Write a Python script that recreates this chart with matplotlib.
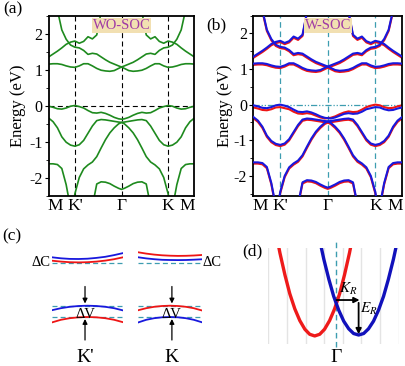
import matplotlib
matplotlib.use('Agg')
import numpy as np
import matplotlib.pyplot as plt
from matplotlib.transforms import ScaledTranslation
from matplotlib.ticker import MultipleLocator

plt.rcParams['font.family'] = ['Liberation Serif', 'DejaVu Serif']
plt.rcParams['mathtext.fontset'] = 'stix'
plt.rcParams['axes.unicode_minus'] = False

# ---------------- data: band structure (a) ----------------
k_path = [0.00, 0.03, 0.06, 0.09, 0.12, 0.15, 0.18, 0.21, 0.24, 0.27, 0.30, 0.33,
          0.36, 0.39, 0.42, 0.45, 0.48, 0.50, 0.52, 0.55, 0.58, 0.61, 0.64, 0.67,
          0.70, 0.73, 0.76, 0.79, 0.82, 0.85, 0.88, 0.91, 0.94, 0.97, 1.00]
k_points = [0.0, 0.18, 0.5, 0.82, 1.0]
k_labels = ['M', "K'", 'Γ', 'K', 'M']

band_c1 = [1.15, 1.16, 1.16, 1.14, 1.10, 1.07, 1.06, 1.10, 1.16, 1.16, 1.10, 1.03,
           0.98, 0.96, 0.95, 0.97, 1.03, 1.07, 1.03, 0.97, 0.95, 0.96, 0.98, 1.03,
           1.10, 1.16, 1.16, 1.10, 1.06, 1.07, 1.10, 1.14, 1.16, 1.16, 1.15]
band_c2 = [4.00, 3.30, 2.65, 2.10, 1.84, 1.68, 1.62, 1.60, 1.53, 1.42, 1.45, 1.43,
           1.35, 1.27, 1.20, 1.15, 1.10, 1.07, 1.10, 1.15, 1.20, 1.27, 1.35, 1.43,
           1.45, 1.42, 1.53, 1.60, 1.62, 1.68, 1.84, 2.10, 2.65, 3.30, 4.00]
band_c3 = [1.35, 1.43, 1.51, 1.60, 1.70, 1.76, 1.79, 1.73, 1.78, 1.91, 1.85, 1.96,
           2.60, 2.90, 3.00, 3.00, 3.00, 3.00, 3.00, 3.00, 3.00, 2.90, 2.60, 1.96,
           1.85, 1.91, 1.78, 1.73, 1.79, 1.76, 1.70, 1.60, 1.51, 1.43, 1.35]
band_v1 = [-0.02, -0.05, -0.09, -0.10, -0.07, -0.02, 0.00, -0.03, -0.07, -0.14, -0.20, -0.21,
           -0.19, -0.22, -0.27, -0.33, -0.37, -0.38, -0.37, -0.33, -0.27, -0.22, -0.19, -0.21,
           -0.20, -0.14, -0.07, -0.03, 0.00, -0.02, -0.07, -0.10, -0.09, -0.05, -0.02]
band_v2 = [-0.35, -0.45, -0.62, -0.87, -1.02, -1.10, -1.13, -1.09, -0.97, -0.77, -0.57, -0.42,
           -0.39, -0.40, -0.42, -0.44, -0.46, -0.47, -0.46, -0.44, -0.42, -0.40, -0.39, -0.42,
           -0.57, -0.77, -0.97, -1.09, -1.13, -1.10, -1.02, -0.87, -0.62, -0.45, -0.35]
band_v3 = [-4.00, -4.00, -4.00, -4.00, -4.00, -3.20, -2.45, -2.00, -1.76, -1.65, -1.57, -1.42,
           -1.18, -0.95, -0.76, -0.62, -0.51, -0.47, -0.51, -0.62, -0.76, -0.95, -1.18, -1.42,
           -1.57, -1.65, -1.76, -2.00, -2.45, -3.20, -4.00, -4.00, -4.00, -4.00, -4.00]
band_v4 = [-1.62, -1.62, -1.64, -1.75, -2.20, -2.85, -3.40, -4.00, -4.00, -4.00, -4.00, -4.00,
           -4.00, -4.00, -4.00, -4.00, -4.00, -4.00, -4.00, -4.00, -4.00, -4.00, -4.00, -4.00,
           -4.00, -4.00, -4.00, -4.00, -3.40, -2.85, -2.20, -1.75, -1.64, -1.62, -1.62]
band_v5 = [-4.00, -4.00, -4.00, -4.00, -4.00, -4.00, -4.00, -4.00, -4.00, -4.00, -2.80, -2.18,
           -2.12, -2.13, -2.17, -2.24, -2.30, -2.33, -2.30, -2.24, -2.17, -2.13, -2.12, -2.18,
           -2.80, -4.00, -4.00, -4.00, -4.00, -4.00, -4.00, -4.00, -4.00, -4.00, -4.00]
bands_wo = [band_v5, band_v4, band_v3, band_v2, band_v1, band_c1, band_c2, band_c3]

# ---------------- data: spin splitting for (b) ----------------
soc_red_v1 = [-0.06, -0.06, -0.06, -0.06, -0.06, -0.06, -0.07, -0.07, -0.06, -0.06, -0.05, -0.05,
              -0.05, -0.04, -0.04, -0.03, -0.02, 0.00, 0.00, 0.00, 0.00, 0.00, 0.00, 0.00,
              0.00, 0.00, 0.00, 0.00, 0.00, 0.00, 0.00, 0.00, 0.00, 0.00, 0.00]
soc_blue_v1 = [0.00, 0.00, 0.00, 0.00, 0.00, 0.00, 0.00, 0.00, 0.00, 0.00, 0.00, 0.00,
               0.00, 0.00, 0.00, 0.00, 0.00, 0.00, -0.02, -0.03, -0.04, -0.04, -0.05, -0.05,
               -0.05, -0.06, -0.06, -0.07, -0.07, -0.06, -0.06, -0.06, -0.06, -0.06, -0.06]
soc_red_shift = -0.035   # other bands: red branch lies slightly below blue

# ---------------- data: schematic (c) ----------------
k_sch = [-1.0, -0.75, -0.5, -0.25, 0.0, 0.25, 0.5, 0.75, 1.0]
kp_cb_blue = [8.77, 8.67, 8.61, 8.60, 8.63, 8.71, 8.82, 8.99, 9.19]
kp_cb_red = [8.43, 8.34, 8.28, 8.26, 8.28, 8.34, 8.44, 8.58, 8.77]
k_cb_red = [9.27, 9.14, 9.04, 8.97, 8.93, 8.91, 8.92, 8.95, 9.00]
k_cb_blue = [8.77, 8.66, 8.58, 8.52, 8.50, 8.49, 8.50, 8.53, 8.57]
kp_vb_blue = [3.48, 3.68, 3.82, 3.90, 3.93, 3.90, 3.82, 3.68, 3.46]
kp_vb_red = [2.26, 2.52, 2.68, 2.77, 2.80, 2.77, 2.68, 2.52, 2.28]
k_vb_red = [3.48, 3.68, 3.82, 3.90, 3.93, 3.90, 3.82, 3.68, 3.46]
k_vb_blue = [2.26, 2.52, 2.68, 2.77, 2.80, 2.77, 2.68, 2.52, 2.28]
cb_ref = 8.17
vb_refs = [3.93, 2.83]

# ---------------- data: Rashba (d) ----------------
red_k = [0.49, 0.62, 0.89, 1.15, 1.42, 1.69, 1.96, 2.22, 2.49, 2.76, 3.02, 3.29, 3.56, 3.83, 4.09, 4.36, 4.49]
red_E = [5.53, 4.87, 3.69, 2.69, 1.88, 1.25, 0.79, 0.52, 0.43, 0.52, 0.79, 1.25, 1.88, 2.69, 3.69, 4.87, 5.53]
blue_k = [2.71, 2.98, 3.25, 3.51, 3.78, 4.05, 4.32, 4.58, 4.85, 5.12, 5.38, 5.65, 5.92, 6.19, 6.45, 6.72, 6.99]
blue_E = [5.77, 4.53, 3.46, 2.55, 1.81, 1.22, 0.81, 0.56, 0.48, 0.56, 0.81, 1.22, 1.81, 2.55, 3.46, 4.53, 5.77]
k_gamma = 3.66
k_shift_end = 4.85
E_kr = 2.35
E_er_top, E_er_bot = 2.2, 0.52

# ---------------- figure ----------------
W, H = 406, 366
fig = plt.figure(figsize=(W / 100, H / 100), dpi=100)


def px_axes(x0, y0, x1, y1):
    return fig.add_axes([x0 / W, 1 - y1 / H, (x1 - x0) / W, (y1 - y0) / H])


teal = '#3d9db0'
green = '#1e8a1e'
red = '#ee1515'
blue = '#1818dd'


def style_band_axes(ax, ylim, label_x):
    ax.set_xlim(0, 1)
    ax.set_ylim(*ylim)
    ax.set_yticks([-2, -1, 0, 1, 2])
    ax.set_yticklabels(['-2', '-1', '0', '1', '2'])
    ax.yaxis.set_minor_locator(MultipleLocator(0.5))
    ax.tick_params(axis='y', which='major', direction='out', length=3, width=0.8,
                   labelsize=11.5, pad=1.5)
    ax.tick_params(axis='y', which='minor', direction='out', length=2, width=0.6)
    ax.set_xticks(k_points)
    ax.set_xticklabels(k_labels)
    ax.tick_params(axis='x', length=0, labelsize=12.5, pad=2)
    labs = ax.get_xticklabels()
    labs[0].set_transform(labs[0].get_transform() + ScaledTranslation(0.065, 0, fig.dpi_scale_trans))
    labs[-1].set_transform(labs[-1].get_transform() + ScaledTranslation(-0.07, 0, fig.dpi_scale_trans))
    for s in ax.spines.values():
        s.set_linewidth(1.3)
    ax.set_ylabel('Energy (eV)', fontsize=12)
    ax.yaxis.set_label_coords(label_x, 0.5)


# ---- (a) ----
axa = px_axes(48.7, 15.5, 194.3, 195.5)
style_band_axes(axa, (-2.5, 2.5), -0.155)
for kp in k_points[1:-1]:
    axa.axvline(kp, color='black', lw=0.8, dashes=(4.5, 3), zorder=1)
axa.axhline(0, color='black', lw=0.8, dashes=(4.5, 3), zorder=1)
for b in bands_wo:
    axa.plot(k_path, b, color=green, lw=1.2, zorder=2)
axa.text(0.5, 2.22, 'WO-SOC', ha='center', va='center', fontsize=10.5, color='#a03aa5',
         bbox=dict(boxstyle='square,pad=0.05', fc='#f2e0b2', ec='none'), zorder=5)

# ---- (b) ----
axb = px_axes(253.5, 15.5, 402, 195.5)
style_band_axes(axb, (-2.55, 2.5), -0.135)
for kp in k_points[1:-1]:
    axb.axvline(kp, color=teal, lw=0.9, dashes=(4.5, 3), zorder=1)
axb.axhline(0, color=teal, lw=0.9, dashes=(5, 1.5, 1, 1.5, 1, 1.5), zorder=1)
kp_arr = np.array(k_path)
for b in bands_wo:
    base = np.array(b)
    if b is band_v1:
        r = base + np.array(soc_red_v1)
        bl = base + np.array(soc_blue_v1)
    else:
        r = base + soc_red_shift
        bl = base
    axb.plot(kp_arr, r, color=red, lw=1.5, zorder=2)
    axb.plot(kp_arr, bl, color=blue, lw=1.5, zorder=3)
axb.text(0.5, 2.22, 'W-SOC', ha='center', va='center', fontsize=10.5, color='#a03aa5',
         bbox=dict(boxstyle='square,pad=0.05', fc='#f2e0b2', ec='none'), zorder=5)

# ---- (c) ----
def sch_axes(x0, x1):
    ax = px_axes(x0, 240, x1, 366)
    ax.set_xlim(-1, 1)
    ax.set_ylim(-2.1, 10.5)
    ax.axis('off')
    return ax


axc1 = sch_axes(52, 123)
axc2 = sch_axes(138.3, 201.7)
for ax, cb_top, cb_bot, vb_top, vb_bot, col_top_cb, col_bot_cb, col_top_vb, col_bot_vb in [
        (axc1, kp_cb_blue, kp_cb_red, kp_vb_blue, kp_vb_red, blue, red, blue, red),
        (axc2, k_cb_red, k_cb_blue, k_vb_red, k_vb_blue, red, blue, red, blue)]:
    ax.axhline(cb_ref, color=teal, lw=0.9, dashes=(4, 2.5))
    for lv in vb_refs:
        ax.axhline(lv, color=teal, lw=0.9, dashes=(4, 2.5))
    ax.plot(k_sch, cb_top, color=col_top_cb, lw=1.3)
    ax.plot(k_sch, cb_bot, color=col_bot_cb, lw=1.3)
    ax.plot(k_sch, vb_top, color=col_top_vb, lw=1.3)
    ax.plot(k_sch, vb_bot, color=col_bot_vb, lw=1.3)

for ax, ka, lab in [(axc1, -0.07, "K'"), (axc2, 0.06, 'K')]:
    ax.annotate('', xy=(ka, 4.15), xytext=(ka, 5.85),
                arrowprops=dict(arrowstyle='-|>', color='black', lw=0.9, mutation_scale=7,
                                shrinkA=0, shrinkB=0))
    ax.annotate('', xy=(ka, 2.6), xytext=(ka, 0.5),
                arrowprops=dict(arrowstyle='-|>', color='black', lw=0.9, mutation_scale=7,
                                shrinkA=0, shrinkB=0))
    ax.text(ka, 3.1, 'ΔV', ha='center', va='center', fontsize=10.5)
    ax.text(ka, -1.2, lab, ha='center', va='center', fontsize=14)
axc1.text(-1.03, 8.3, 'ΔC', ha='right', va='center', fontsize=10.5)
axc2.text(1.03, 8.3, 'ΔC', ha='left', va='center', fontsize=10.5)

# ---- (d) ----
axd = px_axes(268, 248, 399, 344)
axd.set_xlim(-0.02, 7.02)
axd.set_ylim(0, 5.13)
for s in axd.spines.values():
    s.set_visible(False)
axd.set_xticks(range(8))
axd.set_yticks([])
axd.tick_params(axis='x', length=0, labelbottom=False)
axd.grid(axis='x', color='#e4e4e4', lw=1.0)
axd.plot(red_k, red_E, color='#ee1a1a', lw=2.4, zorder=3)
axd.plot(blue_k, blue_E, color='#1111bb', lw=2.4, zorder=3)
axd.plot([k_gamma, k_gamma], [-0.15, 5.55], color=teal, lw=1.0, dashes=(4, 2.5),
         clip_on=False, zorder=2)
axd.annotate('', xy=(k_shift_end + 0.05, E_kr), xytext=(k_gamma, E_kr),
             arrowprops=dict(arrowstyle='-|>', color='black', lw=1.3, mutation_scale=8,
                             shrinkA=0, shrinkB=0), zorder=5)
axd.annotate('', xy=(k_shift_end, E_er_bot), xytext=(k_shift_end, E_er_top),
             arrowprops=dict(arrowstyle='-|>', color='black', lw=1.3, mutation_scale=8,
                             shrinkA=0, shrinkB=0), zorder=5)
axd.text(4.3, 2.95, '$K_R$', ha='center', va='center', fontsize=11)
axd.text(5.4, 1.85, '$E_R$', ha='center', va='center', fontsize=11)
axd.text(k_gamma, -0.7, 'Γ', ha='center', va='center', fontsize=14, clip_on=False)

# ---- panel labels ----
fig.text(12.5 / W, 1 - 9 / H, '(a)', ha='center', va='center', fontsize=12.5)
fig.text(216.7 / W, 1 - 25 / H, '(b)', ha='center', va='center', fontsize=12.5)
fig.text(11.7 / W, 1 - 236 / H, '(c)', ha='center', va='center', fontsize=12.5)
fig.text(252.5 / W, 1 - 251.5 / H, '(d)', ha='center', va='center', fontsize=12.5)

fig.savefig('out.png', dpi=100)
